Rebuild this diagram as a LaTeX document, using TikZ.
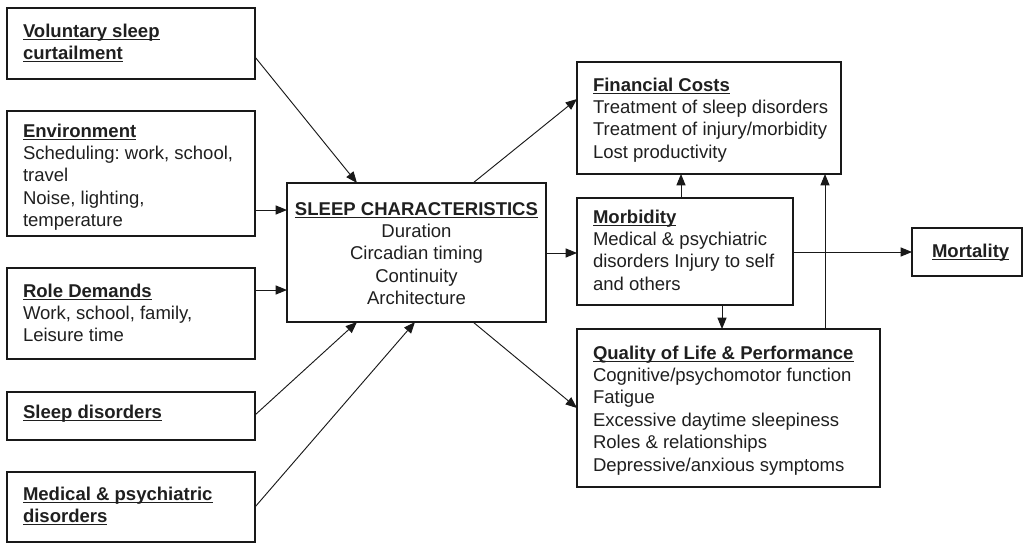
\documentclass[tikz,border=0pt]{standalone}
\usepackage{fontspec}
\setmainfont{Liberation Sans}
\usetikzlibrary{arrows.meta}
\frenchspacing
% bold heading with a thin underline just below the baseline
\newcommand\ttl[1]{{\bfseries\setbox0\hbox{#1}\rlap{\rule[-2.3pt]{\wd0}{0.75pt}}\box0}}
\newcommand\lines[2][l]{\begin{tabular}[t]{@{}#1@{}}#2\end{tabular}}

\begin{document}
\begin{tikzpicture}[x=0.75pt,y=-0.75pt,
  box/.style={draw=black!90, line width=0.9pt, inner sep=0pt, outer sep=0pt},
  txt/.style={inner sep=0pt, outer sep=0pt, anchor=base west, text=black!88,
              font=\fontsize{13.9}{16.8}\selectfont},
  arr/.style={draw=black!90, line width=0.7pt, -{Triangle[length=8.5pt,width=6.8pt]}}]
\useasboundingbox (0,0) rectangle (1029,543);

% ---- input boxes
\node[box, minimum width=186pt, minimum height=53.25pt] (vol) at (131,43.5) {};
\node[txt] (volt) at (23,37) {\lines{\ttl{Voluntary sleep}\\ \ttl{curtailment}}};

\node[box, minimum width=186pt, minimum height=93.75pt] (env) at (131,173.5) {};
\node[txt] (envt) at (23,137) {\lines{\ttl{Environment}\\Scheduling: work, school,\\travel\\Noise, lighting,\\temperature}};

\node[box, minimum width=186pt, minimum height=68.25pt] (role) at (131,313.5) {};
\node[txt] (rolet) at (23,297) {\lines{\ttl{Role Demands}\\Work, school, family,\\Leisure time}};

\node[box, minimum width=186pt, minimum height=36pt] (sdis) at (131,416) {};
\node[txt] (sdist) at (23,418) {\ttl{Sleep disorders}};

\node[box, minimum width=186pt, minimum height=52.5pt] (med) at (131,507) {};
\node[txt] (medt) at (23,500) {\lines{\ttl{Medical \& psychiatric}\\ \ttl{disorders}}};

% ---- central box
\node[box, minimum width=194.25pt, minimum height=104.25pt] (sc) at (416.5,252.5) {};
\node[txt, anchor=base] (sct) at (416.5,215) {\lines[c]{\ttl{SLEEP CHARACTERISTICS}\\Duration\\Circadian timing\\Continuity\\Architecture}};

% ---- outcome boxes
\node[box, minimum width=198pt, minimum height=84pt] (fin) at (709,118) {};
\node[txt] (fint) at (593,91) {\lines{\ttl{Financial Costs}\\Treatment of sleep disorders\\Treatment of injury/morbidity\\Lost productivity}};

\node[box, minimum width=162pt, minimum height=80.25pt] (morb) at (685,251.5) {};
\node[txt] (morbt) at (593,223) {\lines{\ttl{Morbidity}\\Medical \& psychiatric\\disorders Injury to self\\and others}};

\node[box, minimum width=82.5pt, minimum height=36pt] (mort) at (967,252) {};
\node[txt] (mortt) at (932,257) {\ttl{Mortality}};

\node[box, minimum width=227.25pt, minimum height=118.5pt] (qual) at (728.5,408) {};
\node[txt] (qualt) at (593,359) {\lines{\ttl{Quality of Life \& Performance}\\Cognitive/psychomotor function\\Fatigue\\Excessive daytime sleepiness\\Roles \& relationships\\Depressive/anxious symptoms}};

% ---- connectors
\draw[arr] (vol.east |- 0,57) -- (sc.north -| 357,0);
\draw[arr] (env.east |- 0,210) -- (sc.west |- 0,210);
\draw[arr] (role.east |- 0,290) -- (sc.west |- 0,290);
\draw[arr] (sdis.east |- 0,415) -- (sc.south -| 357,0);
\draw[arr] (med.east |- 0,507) -- (sc.south -| 415,0);
\draw[arr] (sc.north -| 473,0) -- (fin.west |- 0,99);
\draw[arr] (sc.south -| 473,0) -- (qual.west |- 0,408);
\draw[arr] (sc.east |- 0,253) -- (morb.west |- 0,253);
\draw[arr] (morb.north -| 681,0) -- (fin.south -| 681,0);
\draw[arr] (morb.south -| 722,0) -- (qual.north -| 722,0);
\draw[arr] (qual.north -| 825,0) -- (fin.south -| 825,0);
\draw[arr] (morb.east |- 0,252) -- (mort.west |- 0,252);
\end{tikzpicture}
\end{document}
